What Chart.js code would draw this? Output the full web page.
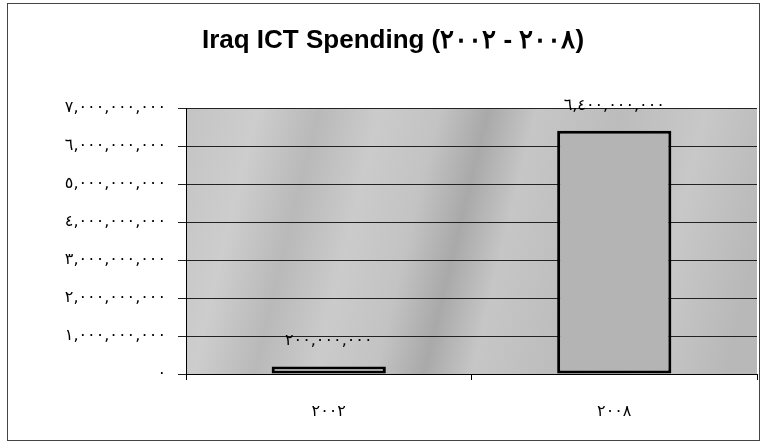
<!DOCTYPE html>
<html>
<head>
<meta charset="utf-8">
<script src="https://cdn.jsdelivr.net/npm/chart.js@4.4.1/dist/chart.umd.min.js"></script>
<style>
  html, body { margin: 0; padding: 0; background: #fff; }
  #wrap { width: 765px; height: 443px; }
</style>
</head>
<body>
<div id="wrap"><canvas id="ict-chart"></canvas></div>
<script>
var years = ["٢٠٠٢", "٢٠٠٨"];
var spending = [200000000, 6400000000];
var yTicks = [0, 1000000000, 2000000000, 3000000000, 4000000000, 5000000000, 6000000000, 7000000000];
// LRM after the first year so the range keeps its left-to-right order
var chartTitle = "Iraq ICT Spending (٢٠٠٢\u200E - \u200E٢٠٠٨)";

// western digits -> arabic-indic, keep the commas
function arabicNum(n) {
    var s = Math.round(n).toLocaleString("en-US");
    return s.replace(/[0-9]/g, function (d) { return "٠١٢٣٤٥٦٧٨٩"[+d]; });
}

var plotBackground = {
    id: "plotBackground",
    beforeDraw: function (chart) {
        var ctx = chart.ctx, a = chart.chartArea;
        ctx.save();
        var g = ctx.createLinearGradient(a.left, a.top, a.right, a.top + 140);
        g.addColorStop(0, "#c4c4c4");
        g.addColorStop(0.12, "#cdcdcd");
        g.addColorStop(0.22, "#b9b9b9");
        g.addColorStop(0.32, "#cbcbcb");
        g.addColorStop(0.42, "#c3c3c3");
        g.addColorStop(0.5, "#a9a9a9");
        g.addColorStop(0.58, "#c6c6c6");
        g.addColorStop(0.72, "#bcbcbc");
        g.addColorStop(0.86, "#c8c8c8");
        g.addColorStop(1, "#b8b8b8");
        ctx.fillStyle = g;
        ctx.fillRect(a.left, a.top, a.right - a.left, a.bottom - a.top);
        ctx.restore();
    },
    afterDraw: function (chart) {
        var ctx = chart.ctx;
        ctx.save();
        ctx.fillStyle = "#000";
        ctx.font = "bold 26px 'Liberation Sans', Arial";
        ctx.textAlign = "center";
        ctx.textBaseline = "middle";
        ctx.fillText(chartTitle, 393, 41);
        ctx.strokeStyle = "#444";
        ctx.lineWidth = 1;
        ctx.strokeRect(7.5, 3.5, 752, 437);
        ctx.restore();
    }
};

var valueLabels = {
    id: "valueLabels",
    afterDatasetsDraw: function (chart) {
        var ctx = chart.ctx;
        var meta = chart.getDatasetMeta(0);
        ctx.save();
        ctx.font = "16px 'DejaVu Sans'";
        ctx.fillStyle = "#000";
        ctx.textAlign = "center";
        ctx.textBaseline = "alphabetic";
        meta.data.forEach(function (bar, i) {
            ctx.fillText(arabicNum(spending[i]), bar.x, bar.y - 21);
        });
        ctx.restore();
    }
};

var ctx = document.getElementById("ict-chart").getContext("2d");
new Chart(ctx, {
    type: "bar",
    data: {
        labels: years,
        datasets: [{
            data: spending,
            backgroundColor: ["#e4e4e4", "#b4b4b4"],
            borderColor: "#000",
            borderWidth: 3,
            borderSkipped: false,
            barPercentage: 0.4,
            categoryPercentage: 1
        }]
    },
    options: {
        responsive: true,
        maintainAspectRatio: false,
        animation: false,
        layout: { padding: { top: 108, left: 20, right: 8, bottom: 0 } },
        plugins: {
            legend: { display: false },
            tooltip: { enabled: false },
            title: { display: false }
        },
        scales: {
            x: {
                offset: true,
                grid: { display: true, drawOnChartArea: false, offset: true, tickLength: 6, color: "#000" },
                border: { color: "#000", width: 1 },
                ticks: { color: "#000", padding: 22, font: { family: "'DejaVu Sans'", size: 16 } },
                afterFit: function (scale) { scale.height = 69; }
            },
            y: {
                min: 0,
                max: 7000000000,
                grid: { color: "#222", lineWidth: 1, tickLength: 8 },
                border: { color: "#000", width: 1 },
                afterBuildTicks: function (scale) {
                    scale.ticks = yTicks.map(function (v) { return { value: v }; });
                },
                ticks: {
                    color: "#000",
                    padding: 12,
                    font: { family: "'DejaVu Sans'", size: 16 },
                    callback: function (v) { return arabicNum(v); }
                },
                afterFit: function (scale) { scale.width = 166; }
            }
        }
    },
    plugins: [plotBackground, valueLabels]
});
</script>
</body>
</html>
